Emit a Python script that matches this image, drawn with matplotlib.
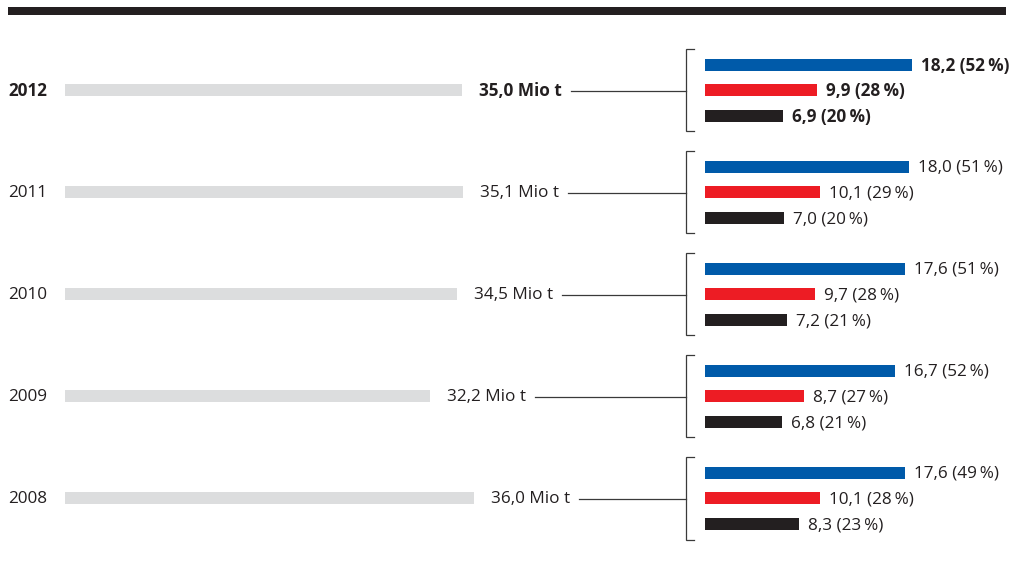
import matplotlib
matplotlib.use('Agg')
import matplotlib.pyplot as plt
from matplotlib.patches import Rectangle

plt.rcParams['font.family'] = ['Open Sans', 'DejaVu Sans']

# Daten
years = ['2012', '2011', '2010', '2009', '2008']
totals = [35.0, 35.1, 34.5, 32.2, 36.0]
blue_vals = [18.2, 18.0, 17.6, 16.7, 17.6]
blue_pct = [52, 51, 51, 52, 49]
red_vals = [9.9, 10.1, 9.7, 8.7, 10.1]
red_pct = [28, 29, 28, 27, 28]
black_vals = [6.9, 7.0, 7.2, 6.8, 8.3]
black_pct = [20, 20, 21, 21, 23]

c_gray = '#dcddde'
c_blue = '#005aa9'
c_red = '#ed1c24'
c_black = '#231f20'
c_text = '#231f20'
c_line = '#3a3a3a'

W, H = 1010, 566
sx = 11.35      # Pixel pro Mio t
x0 = 65         # Start graue Balken (px)
xr = 705        # Start Farbbalken (px)
xbr = 686       # Klammer (px)
sy = 102.0      # Pixel pro Zeile
y0 = 90.5       # Mitte erste Zeile (px)

fig = plt.figure(figsize=(W / 100, H / 100), dpi=100)
ax = fig.add_axes([0, 0, 1, 1])
ax.set_xlim(-x0 / sx, (W - x0) / sx)
ax.set_ylim((H - y0) / sy, -y0 / sy)
ax.axis('off')

# schwarzer Balken oben
fig.patches.append(Rectangle((8 / W, 1 - 14.5 / H), 998 / W, 7.5 / H,
                             transform=fig.transFigure, color=c_black, lw=0))

def fmt(v):
    return f'{v:.1f}'.replace('.', ',')

R = (xr - x0) / sx
BR = (xbr - x0) / sx
px = 1 / sx
bh = 12 / sy
off = 25.8 / sy
fs = 12.3
ty = 1.0 / sy   # Text etwas tiefer

fig.canvas.draw()
renderer = fig.canvas.get_renderer()

for i, yr in enumerate(years):
    bold = 'bold' if i == 0 else 'normal'
    ax.text(-57 * px, i + ty, yr, ha='left', va='center', fontsize=fs,
            fontweight=bold, color=c_text)
    ax.barh(i, totals[i], height=bh, left=0, color=c_gray, lw=0)
    t = ax.text(totals[i] + 17 * px, i + ty, fmt(totals[i]) + ' Mio t',
                ha='left', va='center', fontsize=fs, fontweight=bold, color=c_text)
    bb = t.get_window_extent(renderer=renderer)
    xend = ax.transData.inverted().transform((bb.x1, bb.y0))[0]
    ax.plot([xend + 9 * px, BR], [i + ty, i + ty], color=c_line, lw=0.9)
    # Klammer
    top, bot = i - 41 / sy, i + 41 / sy
    ax.plot([BR + 8 * px, BR, BR, BR + 8 * px], [top, top, bot, bot],
            color=c_line, lw=0.9, solid_joinstyle='miter')
    for dy, vals, pct, col in [(-off, blue_vals, blue_pct, c_blue),
                               (0, red_vals, red_pct, c_red),
                               (off, black_vals, black_pct, c_black)]:
        ax.barh(i + dy, vals[i], height=bh, left=R, color=col, lw=0)
        ax.text(R + vals[i] + 9 * px, i + dy + ty,
                f'{fmt(vals[i])} ({pct[i]}\u2009%)', ha='left', va='center',
                fontsize=fs, fontweight=bold, color=c_text)

fig.savefig('out.png', dpi=100)
